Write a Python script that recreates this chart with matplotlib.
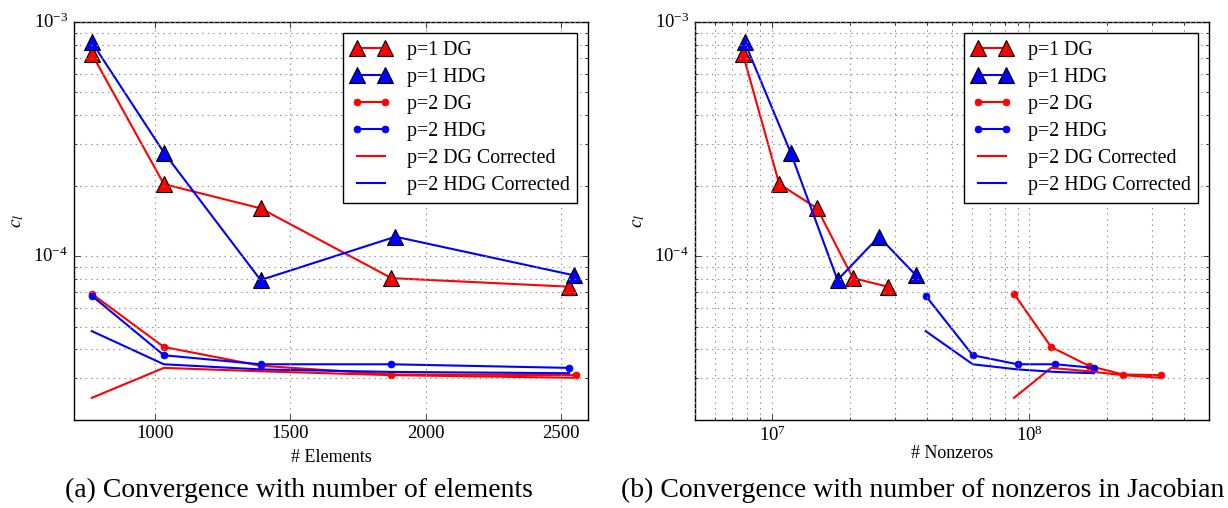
import matplotlib
matplotlib.use('Agg')
import matplotlib.pyplot as plt

# number of elements per mesh
elem_p1_dg = [767, 1033, 1390, 1873, 2530]
elem_p1_hdg = [767, 1033, 1390, 1888, 2546]
elem_p2_dg = [767, 1033, 1390, 1873, 2553]
elem_p2_hdg = [767, 1033, 1390, 1873, 2529]

# nonzeros in the jacobian
nnz_p1_dg = [7.7e6, 1.066e7, 1.495e7, 2.06e7, 2.82e7]
nnz_p1_hdg = [7.82e6, 1.18e7, 1.795e7, 2.60e7, 3.62e7]
nnz_p2_dg = [8.71e7, 1.214e8, 1.70e8, 2.31e8, 3.24e8]
nnz_p2_hdg = [3.95e7, 6.02e7, 8.99e7, 1.262e8, 1.78e8]

# c_l error
cl_p1_dg = [7.3e-4, 2.03e-4, 1.6e-4, 8.05e-5, 7.4e-5]
cl_p1_hdg = [8.2e-4, 2.77e-4, 7.9e-5, 1.21e-4, 8.28e-5]
cl_p2_dg = [6.9e-5, 4.09e-5, 3.40e-5, 3.12e-5, 3.10e-5]
cl_p2_hdg = [6.77e-5, 3.77e-5, 3.45e-5, 3.45e-5, 3.33e-5]
cl_p2_dg_corr = [2.48e-5, 3.33e-5, 3.22e-5, 3.10e-5, 3.02e-5]
cl_p2_hdg_corr = [4.78e-5, 3.45e-5, 3.28e-5, 3.20e-5, 3.16e-5]

labels = ['p=1 DG', 'p=1 HDG', 'p=2 DG', 'p=2 HDG',
          'p=2 DG Corrected', 'p=2 HDG Corrected']

plt.style.use('classic')
plt.rcParams['figure.facecolor'] = 'white'
plt.rcParams['savefig.facecolor'] = 'white'
plt.rcParams['font.family'] = 'serif'
plt.rcParams['font.serif'] = ['Liberation Serif', 'DejaVu Serif']
plt.rcParams['mathtext.fontset'] = 'stix'

fig = plt.figure(figsize=(12.28, 5.08), dpi=100)
ax1 = fig.add_axes([0.0600, 0.1738, 0.4191, 0.7829])
ax2 = fig.add_axes([0.5657, 0.1738, 0.4191, 0.7829])


def draw(ax, x1d, x1h, x2d, x2h):
    ax.plot(x1d, cl_p1_dg, 'r-^', lw=1.5, ms=11, mec='k', mew=0.8, label=labels[0])
    ax.plot(x1h, cl_p1_hdg, 'b-^', lw=1.5, ms=11, mec='k', mew=0.8, label=labels[1])
    ax.plot(x2d, cl_p2_dg, 'r-o', lw=1.5, ms=5, mec='r', label=labels[2])
    ax.plot(x2h, cl_p2_hdg, 'b-o', lw=1.5, ms=5, mec='b', label=labels[3])
    ax.plot(x2d, cl_p2_dg_corr, 'r-', lw=1.5, label=labels[4])
    ax.plot(x2h, cl_p2_hdg_corr, 'b-', lw=1.5, label=labels[5])
    ax.set_yscale('log')
    ax.set_ylim(2e-5, 1e-3)
    ax.set_ylabel(r'$c_l$', fontsize=14)
    ax.grid(True, which='both', color='0.55', linestyle=':', lw=0.8)
    ax.tick_params(labelsize=13.5)
    ax.legend(loc='upper right', fontsize=14.3, numpoints=2,
              borderaxespad=0.55, handlelength=2.0, labelspacing=0.4)


draw(ax1, elem_p1_dg, elem_p1_hdg, elem_p2_dg, elem_p2_hdg)
ax1.set_xlim(700, 2600)
ax1.set_xticks([1000, 1500, 2000, 2500])
ax1.set_xlabel('# Elements', fontsize=13)

draw(ax2, nnz_p1_dg, nnz_p1_hdg, nnz_p2_dg, nnz_p2_hdg)
ax2.set_xscale('log')
ax2.set_xlim(5e6, 5e8)
ax2.set_xlabel('# Nonzeros', fontsize=13, labelpad=0)

fig.text(0.2435, 0.035, '(a) Convergence with number of elements',
         ha='center', va='center', fontsize=20)
fig.text(0.751, 0.035, '(b) Convergence with number of nonzeros in Jacobian',
         ha='center', va='center', fontsize=20)

fig.savefig('out.png', dpi=100)
